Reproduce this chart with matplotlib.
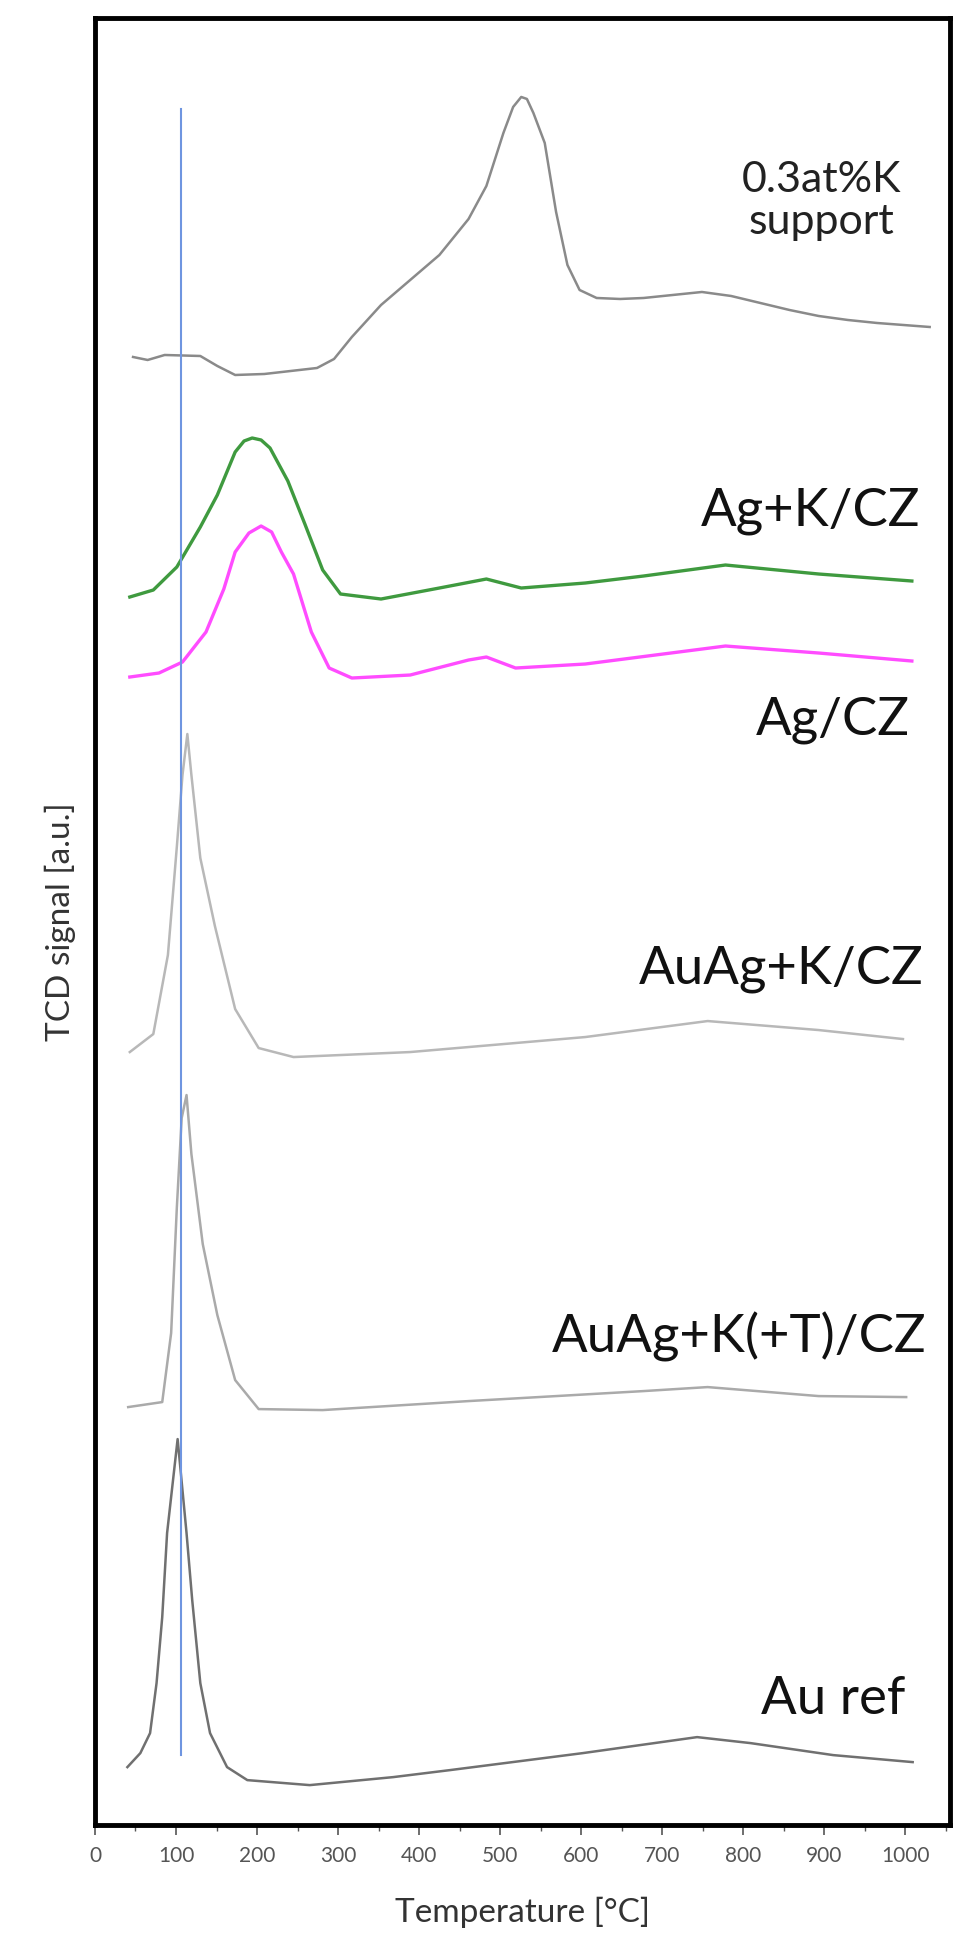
import numpy as np
import matplotlib
matplotlib.use("Agg")
import matplotlib.pyplot as plt
from matplotlib.ticker import MultipleLocator

plt.rcParams['font.family'] = ['Lato', 'DejaVu Sans']

support_T = [47, 65, 86, 130, 151, 173, 209, 274, 295, 317, 353, 389, 425, 461, 483, 504, 516, 526, 533,
             541, 555, 569, 583, 598, 619, 648, 677, 713, 749, 785, 821, 857, 893, 929, 965, 1030]
support_s = [1468, 1465, 1470, 1469, 1459, 1450, 1451, 1457, 1466, 1488, 1520, 1545, 1570, 1606, 1639,
             1692, 1718, 1728, 1726, 1712, 1682, 1613, 1560, 1535, 1527, 1526, 1527, 1530, 1533, 1529,
             1522, 1515, 1509, 1505, 1502, 1498]

agk_T = [43, 72, 101, 130, 151, 173, 184, 194, 205, 216, 238, 259, 281, 303, 353, 425, 483, 526, 605,
         677, 778, 893, 1008]
agk_s = [1228, 1235, 1258, 1298, 1330, 1373, 1384, 1387, 1385, 1377, 1344, 1301, 1255, 1231, 1226, 1237,
         1246, 1237, 1242, 1249, 1260, 1251, 1244]

ag_T = [43, 79, 108, 137, 159, 173, 190, 205, 218, 230, 245, 267, 289, 317, 389, 461, 483, 519, 605,
        778, 893, 1008]
ag_s = [1148, 1152, 1163, 1193, 1236, 1273, 1292, 1299, 1293, 1273, 1251, 1193, 1157, 1147, 1150, 1165,
        1168, 1157, 1161, 1179, 1172, 1164]

auagk_T = [43, 72, 90, 101, 108, 114, 119, 130, 148, 173, 202, 245, 389, 605, 756, 893, 997]
auagk_s = [773, 791, 870, 978, 1050, 1091, 1050, 967, 899, 816, 777, 768, 773, 788, 804, 795, 786]

auagkt_T = [41, 83, 94, 101, 107, 113, 119, 133, 151, 173, 202, 281, 461, 677, 756, 893, 1001]
auagkt_s = [418, 423, 492, 617, 707, 730, 671, 581, 510, 445, 416, 415, 424, 434, 438, 429, 428]

auref_T = [40, 56, 68, 76, 83, 89, 102, 113, 120, 130, 142, 163, 188, 265, 368, 438, 602, 743, 809, 911, 1009]
auref_s = [58, 72, 92, 142, 208, 292, 386, 292, 225, 142, 92, 58, 45, 40, 48, 55, 72, 88, 82, 70, 63]

marker_T = 106
marker_range = [70, 1716]

labels = ["0.3at%K\nsupport", "Ag+K/CZ", "Ag/CZ", "AuAg+K/CZ", "AuAg+K(+T)/CZ", "Au ref"]

fig = plt.figure(figsize=(9.73, 19.52), dpi=100)
ax = fig.add_axes([0.0976, 0.065, 0.8787, 0.9258])

ax.plot(support_T, support_s, color='#8a8a8a', lw=1.8)
ax.plot(agk_T, agk_s, color='#3f9a3f', lw=2.4)
ax.plot(ag_T, ag_s, color='#ff4cff', lw=2.4)
ax.plot(auagk_T, auagk_s, color='#b8b8b8', lw=1.8)
ax.plot(auagkt_T, auagkt_s, color='#aaaaaa', lw=1.8)
ax.plot(auref_T, auref_s, color='#707070', lw=1.8)
ax.plot([marker_T, marker_T], marker_range, color='#6f95e0', lw=1.5)

# sample labels (y in data units of the stacked plot)
ax.text(897, 1624, labels[0], fontsize=31, ha='center', va='center', color='#222222', linespacing=1.15)
ax.text(1018, 1314, labels[1], fontsize=38, ha='right', va='center', color='#111111')
ax.text(1005, 1105, labels[2], fontsize=38, ha='right', va='center', color='#111111')
ax.text(1022, 856, labels[3], fontsize=38, ha='right', va='center', color='#111111')
ax.text(1026, 488, labels[4], fontsize=38, ha='right', va='center', color='#111111')
ax.text(1000, 126, labels[5], fontsize=38, ha='right', va='center', color='#111111')

ax.set_xlim(0, 1055)
ax.set_ylim(0, 1807)
ax.set_yticks([])
ax.xaxis.set_major_locator(MultipleLocator(100))
ax.xaxis.set_minor_locator(MultipleLocator(50))
ax.tick_params(axis='x', which='major', direction='out', length=7, width=1.2, labelsize=15,
               labelcolor='#555555', color='#555555', pad=8)
ax.tick_params(axis='x', which='minor', direction='out', length=4, width=1, color='#555555')
for sp in ax.spines.values():
    sp.set_linewidth(3.5)

ax.set_xlabel("Temperature [°C]", fontsize=24, color='#333333', labelpad=22)
ax.set_ylabel("TCD signal [a.u.]", fontsize=24, color='#333333', labelpad=14)

fig.savefig("out.png", dpi=100)
